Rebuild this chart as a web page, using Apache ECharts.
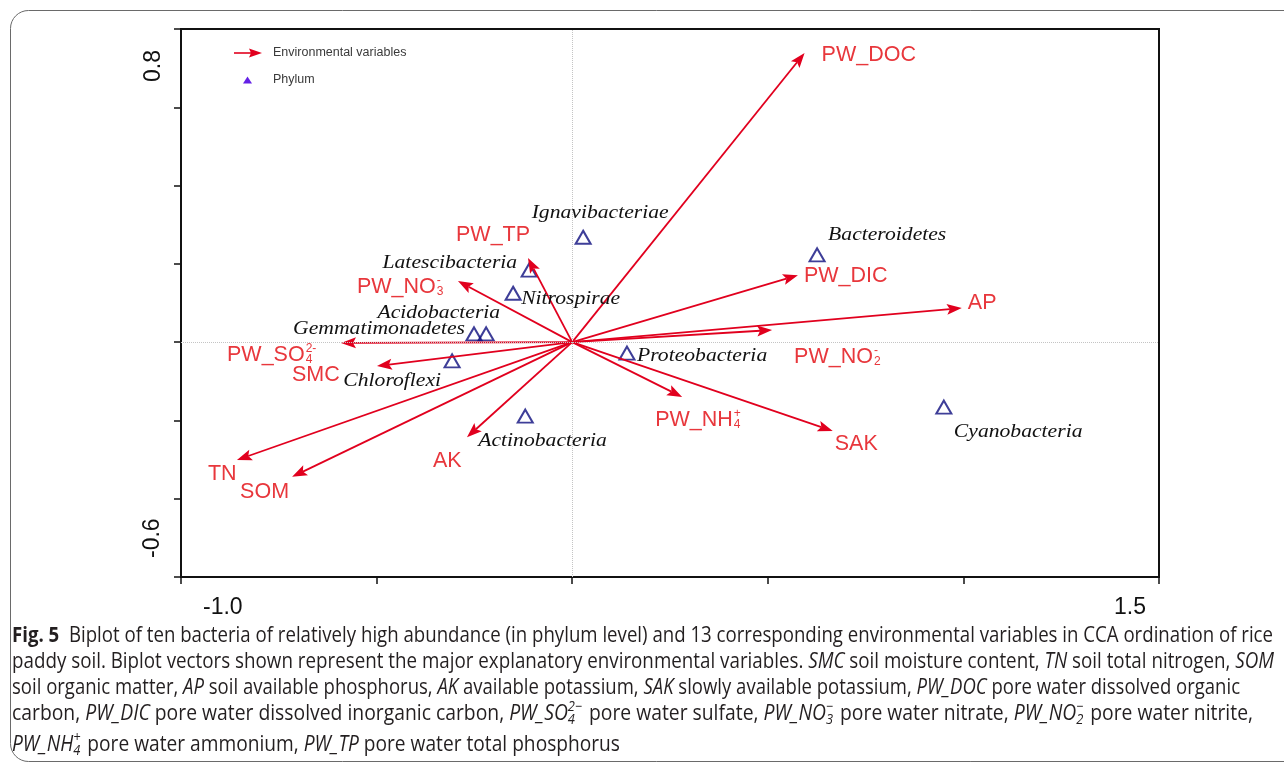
<!DOCTYPE html>
<html><head><meta charset="utf-8">
<script src="https://cdn.jsdelivr.net/npm/echarts@6/dist/echarts.min.js"></script>
<style>html,body{margin:0;padding:0;background:#fff}#c{width:1284px;height:763px}</style>
</head><body><div id="c"></div>
<script>
// ---------------- data ----------------
const envNames = ['PW_DOC','PW_DIC','AP','PW_NO2','PW_NH4','SAK','AK','SOM','TN','SMC','PW_SO4','PW_NO3','PW_TP'];
const envX = [0.594, 0.577, 0.996, 0.511, 0.281, 0.666, -0.269, -0.716, -0.857, -0.499, -0.591, -0.292, -0.113];
const envY = [0.739, 0.171, 0.087, 0.031, -0.140, -0.227, -0.243, -0.344, -0.301, -0.061, -0.002, 0.156, 0.215];
// label text: [main, subscript, superscript]
const envLabelParts = {
  PW_DOC:['PW_DOC'], PW_DIC:['PW_DIC'], AP:['AP'], PW_NO2:['PW_NO','2','-'], PW_NH4:['PW_NH','4','+'],
  SAK:['SAK'], AK:['AK'], SOM:['SOM'], TN:['TN'], SMC:['SMC'], PW_SO4:['PW_SO','4','2-'],
  PW_NO3:['PW_NO','3','-'], PW_TP:['PW_TP']
};
const phylumNames = ['Ignavibacteriae','Bacteroidetes','Latescibacteria','Nitrospirae','Acidobacteria','Gemmatimonadetes','Chloroflexi','Proteobacteria','Actinobacteria','Cyanobacteria'];
const phylumX = [0.028, 0.626, -0.110, -0.151, -0.220, -0.251, -0.307, 0.140, -0.120, 0.950];
const phylumY = [0.268, 0.223, 0.184, 0.125, 0.021, 0.021, -0.048, -0.028, -0.189, -0.166];
const xMin = -1.0, xMax = 1.5, xStep = 0.5;
const yMin = -0.6, yMax = 0.8, yStep = 0.2;
const xTickLabels = ['-1.0', '1.5'];
const yTickLabels = ['-0.6', '0.8'];
const legendLabels = ['Environmental variables', 'Phylum'];

// ---------------- layout / style ----------------
const ARROW = '#e1001e', LABEL = '#e8373c', TRI = '#0e0e7e', LEG_TRI = '#6420e6';
const sansFam = '"Liberation Sans", Arial, sans-serif';
const labelFont = 'normal 21.5px ' + sansFam;
const smallFont = 'normal 12px ' + sansFam;
const phyFont = 'italic 18.5px "Liberation Serif", "Times New Roman", serif';
// pixel offsets of env label (left edge, vertical centre) relative to arrow tip
const envLabelLayout = {
  PW_DOC:[17,2], PW_DIC:[6,1], AP:[6,-5], PW_NO2:[22,27], PW_NH4:[-27,23], SAK:[2,13],
  AK:[-34,24], SOM:[-52,15], TN:[-29,14], SMC:[-85,9], PW_SO4:[-114,12], PW_NO3:[-101,6], PW_TP:[-72,-23]
};
// phylum label: [align, dx, dy] relative to triangle centre
const phyLabelLayout = {
  Ignavibacteriae:['center',17,-24], Bacteroidetes:['left',11,-20], Latescibacteria:['right',-12,-7],
  Nitrospirae:['left',8,6], Acidobacteria:['right',14,-21], Gemmatimonadetes:['right',-9,-5],
  Chloroflexi:['right',-11,20], Proteobacteria:['left',10,3], Actinobacteria:['left',-47,25],
  Cyanobacteria:['left',10,25]
};

const mctx = document.createElement('canvas').getContext('2d');
function measure(t, font){ mctx.font = font; return mctx.measureText(t).width; }
function txt(x, y, text, font, fill, align, valign, extra){
  const o = {type:'text', x:x, y:y, style:{text:text, font:font, fill:fill,
    align:align||'left', textAlign:align||'left', verticalAlign:valign||'middle', textVerticalAlign:valign||'middle'}};
  if (extra) Object.assign(o, extra);
  return o;
}

function renderArrow(params, api){
  const i = params.dataIndex;
  const o = api.coord([0, 0]);
  const t = api.coord([api.value(0), api.value(1)]);
  const dx = t[0]-o[0], dy = t[1]-o[1];
  const len = Math.hypot(dx, dy);
  const ux = dx/len, uy = dy/len;
  const HL = 15, HW = 5.5;
  const bx = t[0]-ux*HL, by = t[1]-uy*HL;
  const nx = t[0]-ux*HL*0.8, ny = t[1]-uy*HL*0.8;
  const name = envNames[i];
  const parts = envLabelParts[name];
  const lay = envLabelLayout[name];
  const lx = t[0]+lay[0], ly = t[1]+lay[1];
  const children = [
    {type:'line', shape:{x1:o[0], y1:o[1], x2:nx, y2:ny}, style:{stroke:ARROW, lineWidth:1.8}},
    {type:'polygon', shape:{points:[[t[0],t[1]], [bx-uy*HW, by+ux*HW], [nx, ny], [bx+uy*HW, by-ux*HW]]}, style:{fill:ARROW}},
    txt(lx, ly, parts[0], labelFont, LABEL)
  ];
  const mw = measure(parts[0], labelFont);
  if (parts[1]) children.push(txt(lx+mw+1, ly+5, parts[1], smallFont, LABEL));
  if (parts[2]) children.push(txt(lx+mw+1, ly-6, parts[2], smallFont, LABEL));
  return {type:'group', children:children};
}

function renderPhyLabel(params, api){
  const i = params.dataIndex;
  const p = api.coord([api.value(0), api.value(1)]);
  const lay = phyLabelLayout[phylumNames[i]];
  return txt(p[0]+lay[1], p[1]+lay[2], phylumNames[i], phyFont, '#111', lay[0], 'middle', {scaleX:1.17});
}

const envData = envX.map((x, i) => [x, envY[i]]);
const phyData = phylumX.map((x, i) => ({value:[x, phylumY[i]], name:phylumNames[i]}));

const axisCommon = {
  type:'value',
  axisLine:{show:true, onZero:false, lineStyle:{color:'#111', width:2}},
  axisTick:{show:true, inside:false, length:7, lineStyle:{color:'#111', width:1.5}},
  axisLabel:{show:false}, splitLine:{show:false}
};

// ---------------- caption ----------------
const capFam = '"Open Sans", "Noto Sans", sans-serif';
const capSize = 21;
const captionLines = [
  [['b','Fig. 5'],['n','  Biplot of ten bacteria of relatively high abundance (in phylum level) and 13 corresponding environmental variables in CCA ordination of rice']],
  [['n','paddy soil. Biplot vectors shown represent the major explanatory environmental variables. '],['i','SMC'],['n',' soil moisture content, '],['i','TN'],['n',' soil total nitrogen, '],['i','SOM']],
  [['n','soil organic matter, '],['i','AP'],['n',' soil available phosphorus, '],['i','AK'],['n',' available potassium, '],['i','SAK'],['n',' slowly available potassium, '],['i','PW_DOC'],['n',' pore water dissolved organic']],
  [['n','carbon, '],['i','PW_DIC'],['n',' pore water dissolved inorganic carbon, '],['i','PW_SO'],['ss','4','2\u2212'],['n',' pore water sulfate, '],['i','PW_NO'],['ss','3','\u2212'],['n',' pore water nitrate, '],['i','PW_NO'],['ss','2','\u2212'],['n',' pore water nitrite,']],
  [['i','PW_NH'],['ss','4','+'],['n',' pore water ammonium, '],['i','PW_TP'],['n',' pore water total phosphorus']]
];
const captionY = [636, 662, 688, 714, 745];
const captionRight = [1273, 1274, 1240, 1253, 620];
function capFontOf(kind){
  if (kind === 'b') return 'bold ' + capSize + 'px ' + capFam;
  if (kind === 'i') return 'italic ' + capSize + 'px ' + capFam;
  if (kind === 'ss') return 'italic 14px ' + capFam;
  return 'normal ' + capSize + 'px ' + capFam;
}
function buildLine(segs){
  let x = 0; const ch = [];
  segs.forEach(s => {
    const f = capFontOf(s[0]);
    if (s[0] === 'ss') {
      ch.push(txt(x, 6, s[1], f, '#231f20'));
      ch.push(txt(x, -7, s[2], f, '#231f20'));
      x += Math.max(measure(s[1], f), measure(s[2], f)) + 2;
    } else {
      ch.push(txt(x, 0, s[1], f, '#231f20'));
      x += measure(s[1], f);
    }
  });
  return {children:ch, width:x};
}
const builtLines = captionLines.map(buildLine);

const chart = echarts.init(document.getElementById('c'), null, {renderer:'canvas'});
const option = {
  animation:false,
  backgroundColor:'#fff',
  grid:{left:181, top:29, width:978, height:548, show:true, borderColor:'#111', borderWidth:2, backgroundColor:'transparent'},
  xAxis:Object.assign({}, axisCommon, {min:xMin, max:xMax, interval:xStep}),
  yAxis:Object.assign({}, axisCommon, {min:yMin, max:yMax, interval:yStep}),
  series:[
    {type:'scatter', name:'Phylum', data:phyData, symbol:'triangle', symbolSize:[15,13], z:3,
     itemStyle:{color:'rgba(0,0,0,0)', borderColor:TRI, borderWidth:2},
     markLine:{silent:true, symbol:['none','none'], label:{show:false},
       lineStyle:{type:'dotted', color:'#c4c4c4', width:1},
       data:[{xAxis:0},{yAxis:0}]}},
    {type:'custom', name:'Environmental variables', data:envData, renderItem:renderArrow, z:4, encode:{x:0, y:1}},
    {type:'custom', name:'Phylum labels', data:phyData, renderItem:renderPhyLabel, z:5, encode:{x:0, y:1}}
  ]
};
chart.setOption(option);

const pMin = chart.convertToPixel({gridIndex:0}, [xMin, yMin]);
const pMax = chart.convertToPixel({gridIndex:0}, [xMax, yMax]);
const tickFont = 'normal 23px ' + sansFam;
const gl = pMin[0], gt = pMax[1];
const graphics = [
  {type:'rect', shape:{x:10.5, y:10.5, width:1320, height:751, r:18}, style:{fill:'none', stroke:'#6a6a6a', lineWidth:1}, z:-1},
  // axis labels
  txt(pMin[0]+22, pMin[1]+31, xTickLabels[0], tickFont, '#111', 'left'),
  txt(pMax[0]-13, pMin[1]+31, xTickLabels[1], tickFont, '#111', 'right'),
  txt(pMin[0]-28, pMin[1]-19, yTickLabels[0], tickFont, '#111', 'left', 'middle', {rotation:Math.PI/2}),
  txt(pMin[0]-27, pMax[1]+21, yTickLabels[1], tickFont, '#111', 'right', 'middle', {rotation:Math.PI/2}),
  // legend
  {type:'line', shape:{x1:gl+53, y1:gt+24, x2:gl+70, y2:gt+24}, style:{stroke:ARROW, lineWidth:1.6}},
  {type:'polygon', shape:{points:[[gl+81,gt+24],[gl+68,gt+19.5],[gl+70,gt+24],[gl+68,gt+28.5]]}, style:{fill:ARROW}},
  txt(gl+92, gt+24, legendLabels[0], 'normal 12.5px ' + sansFam, '#3a3a3a'),
  {type:'polygon', shape:{points:[[gl+66.5,gt+47.5],[gl+62,gt+54.5],[gl+71,gt+54.5]]}, style:{fill:LEG_TRI}},
  txt(gl+92, gt+51, legendLabels[1], 'normal 12.5px ' + sansFam, '#3a3a3a')
];
builtLines.forEach((l, i) => {
  const k = (captionRight[i] - 12) / l.width;
  graphics.push({type:'group', x:12, y:captionY[i], scaleX:k, children:l.children});
});
chart.setOption({graphic:{elements:graphics}});
</script>
</body></html>
